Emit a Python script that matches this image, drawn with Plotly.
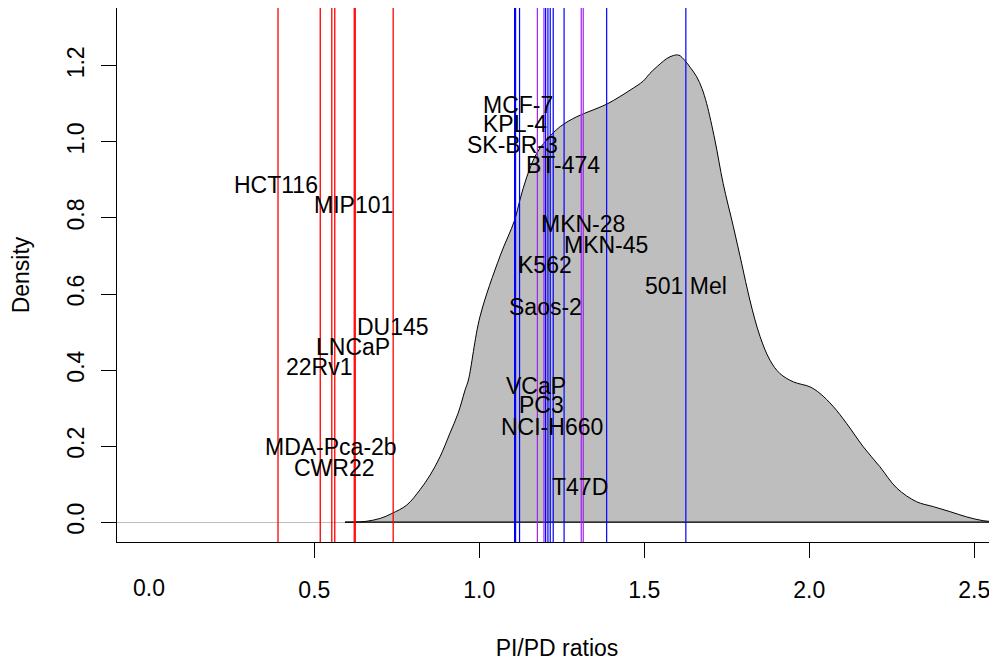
import plotly.graph_objects as go

# Density curve of PI/PD ratios
dens_x = [0.593, 0.62, 0.654, 0.70, 0.735, 0.780, 0.820, 0.851, 0.881, 0.911, 0.936, 0.957,
          0.967, 1.002, 1.063, 1.107, 1.123, 1.144, 1.174, 1.204, 1.245, 1.295, 1.345, 1.386,
          1.426, 1.457, 1.497, 1.517, 1.548, 1.568, 1.588, 1.605, 1.623, 1.640, 1.659, 1.675,
          1.689, 1.714, 1.739, 1.770, 1.795, 1.820, 1.851, 1.881, 1.911, 1.952, 2.002, 2.032,
          2.073, 2.113, 2.164, 2.214, 2.265, 2.325, 2.376, 2.426, 2.477, 2.527, 2.57]
dens_y = [0.0, 0.0005, 0.002, 0.01, 0.023, 0.045, 0.085, 0.124, 0.172, 0.234, 0.287, 0.348,
          0.374, 0.54, 0.70, 0.794, 0.847, 0.908, 0.970, 1.005, 1.040, 1.066, 1.084, 1.099,
          1.119, 1.136, 1.160, 1.180, 1.205, 1.219, 1.227, 1.228, 1.214, 1.195, 1.171, 1.140,
          1.101, 1.005, 0.891, 0.777, 0.681, 0.584, 0.488, 0.426, 0.391, 0.369, 0.356, 0.339,
          0.304, 0.260, 0.198, 0.146, 0.090, 0.054, 0.041, 0.028, 0.014, 0.004, 0.001]

# Vertical marker lines
red_lines = [0.390, 0.518, 0.553, 0.562, 0.621, 0.624, 0.739]
blue_lines = [1.107, 1.110, 1.122, 1.201, 1.208, 1.215, 1.224, 1.257, 1.386, 1.626]
purple_lines = [1.176, 1.196, 1.309, 1.315]

# Cell line labels
red_names = ["HCT116", "MIP101", "DU145", "LNCaP", "22Rv1", "MDA-Pca-2b", "CWR22"]
red_lab_x = [0.385, 0.618, 0.738, 0.618, 0.515, 0.551, 0.560]
red_lab_y = [0.886, 0.833, 0.514, 0.462, 0.407, 0.199, 0.143]

blue_names = ["MCF-7", "KPL-4", "SK-BR-3", "BT-474", "MKN-28", "MKN-45", "K562",
              "501 Mel", "Saos-2", "VCaP", "PC3", "NCI-H660", "T47D"]
blue_lab_x = [1.117, 1.107, 1.102, 1.253, 1.314, 1.383, 1.200,
              1.626, 1.200, 1.171, 1.190, 1.220, 1.305]
blue_lab_y = [1.096, 1.046, 0.993, 0.938, 0.783, 0.730, 0.675,
              0.622, 0.567, 0.359, 0.307, 0.251, 0.093]

x_ticks = [0.5, 1.0, 1.5, 2.0, 2.5]
y_ticks = [0.0, 0.2, 0.4, 0.6, 0.8, 1.0, 1.2]

FONT = "Liberation Sans, Arial, sans-serif"
FS = 23

fig = go.Figure()

fig.add_trace(go.Scatter(
    x=dens_x, y=dens_y, mode="lines", line=dict(color="black", width=1, shape="spline"),
    fill="tozeroy", fillcolor="#BEBEBE", hoverinfo="skip", showlegend=False))
fig.add_trace(go.Scatter(
    x=[dens_x[0], dens_x[-1]], y=[0, 0], mode="lines",
    line=dict(color="black", width=1.3), hoverinfo="skip", showlegend=False))

for v in red_lines:
    fig.add_vline(x=v, line=dict(color="#FF0000", width=1.3))
for v in blue_lines:
    fig.add_vline(x=v, line=dict(color="#0000FF", width=1.2))
for v in purple_lines:
    fig.add_vline(x=v, line=dict(color="#A020F0", width=1.2))

for n, x, y in zip(red_names + blue_names, red_lab_x + blue_lab_x, red_lab_y + blue_lab_y):
    fig.add_annotation(x=x, y=y, text=n, showarrow=False, xanchor="center", yanchor="middle",
                       font=dict(family=FONT, size=FS, color="black"))

# "0.0" label on the x axis (no tick mark there in the original)
fig.add_annotation(x=0.0, y=0, xref="x", yref="paper", yshift=-46, text="0.0", showarrow=False,
                   xanchor="center", yanchor="middle", font=dict(family=FONT, size=FS, color="black"))

fig.update_layout(
    width=989, height=653,
    margin=dict(l=109, r=0, t=0, b=119),
    paper_bgcolor="white", plot_bgcolor="white",
    font=dict(family=FONT, size=FS, color="black"),
    showlegend=False,
    xaxis=dict(range=[-0.098, 2.569], tickvals=x_ticks, ticktext=[f"{v:.1f}" for v in x_ticks],
               ticks="outside", ticklen=15, tickwidth=1, tickcolor="black",
               showline=True, linecolor="black", linewidth=1, mirror=True,
               showgrid=False, zeroline=False, ticklabelstandoff=12,
               title=dict(text="PI/PD ratios", font=dict(family=FONT, size=FS), standoff=38),
               automargin=False),
    yaxis=dict(range=[-0.052, 1.352], tickvals=y_ticks, ticktext=[f"{v:.1f}" for v in y_ticks],
               ticks="outside", ticklen=15, tickwidth=1, tickcolor="black", tickangle=-90,
               showline=True, linecolor="black", linewidth=1, mirror=False,
               showgrid=False, zeroline=True, zerolinecolor="#BEBEBE", zerolinewidth=1,
               ticklabelstandoff=8,
               title=dict(text="Density", font=dict(family=FONT, size=FS), standoff=27),
               automargin=False),
)

fig.write_html("out.html")
